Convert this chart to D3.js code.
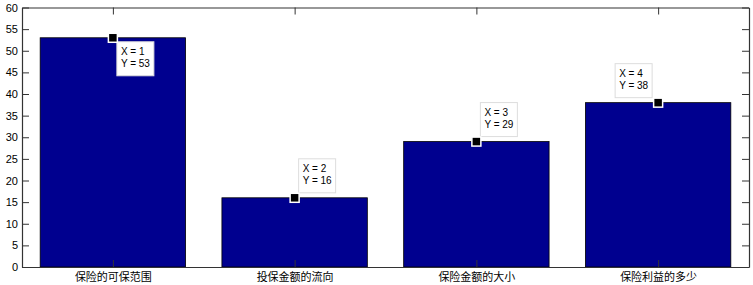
<!DOCTYPE html>
<html>
<head>
<meta charset="utf-8">
<script src="https://cdn.jsdelivr.net/npm/d3@7"></script>
<style>
  body { margin: 0; background: #fff; }
  svg text { font-family: "Liberation Sans", Arial, sans-serif; }
</style>
</head>
<body>
<svg id="chart" width="753" height="285"></svg>
<script>
"use strict";

var categories = ["保险的可保范围", "投保金额的流向", "保险金额的大小", "保险利益的多少"];
var values = [53, 16, 29, 38];
var yTicks = [0, 5, 10, 15, 20, 25, 30, 35, 40, 45, 50, 55, 60];
// where each data tip box sits relative to its marker
var tipPlace = ["below-right", "above-right", "above-right", "above-left"];

var svg = d3.select("#chart"),
	margin = {left: 22, right: 4, top: 7.5, bottom: 18},
	W = 753, H = 285,
	plotW = W - margin.left - margin.right,
	plotH = H - margin.top - margin.bottom,
	tick = 7;

var g = svg.append("g")
	.attr("transform", "translate(" + margin.left + "," + margin.top + ")");

// categories live at 1..4, limits [0.5, 4.5]
var x = d3.scaleLinear().domain([0.5, 4.5]).range([0, plotW]);
var y = d3.scaleLinear().domain([0, 60]).range([plotH, 0]);

g.append("rect")
	.attr("width", plotW)
	.attr("height", plotH)
	.attr("fill", "#fff");

// bars
g.selectAll(".bar")
	.data(values)
	.enter().append("rect")
	.attr("class", "bar")
	.attr("x", function (d, i) { return x(i + 1 - 0.4); })
	.attr("width", x(1.4) - x(0.6))
	.attr("y", function (d) { return y(d); })
	.attr("height", function (d) { return y(0) - y(d); })
	.attr("fill", "#00008f")
	.attr("stroke", "#000")
	.attr("stroke-width", 0.8);

// axes, MATLAB style: ticks pointing in, mirrored on top and right
var axisColor = "#333";
var yLeft = d3.axisLeft(y).tickValues(yTicks).tickSizeInner(-tick).tickSizeOuter(0).tickPadding(4);
var yRight = d3.axisRight(y).tickValues(yTicks).tickSizeInner(-tick).tickSizeOuter(0).tickFormat("");
var xBottom = d3.axisBottom(x).tickValues([1, 2, 3, 4]).tickSizeInner(-tick).tickSizeOuter(0)
	.tickPadding(4).tickFormat(function (d) { return categories[d - 1]; });
var xTop = d3.axisTop(x).tickValues([1, 2, 3, 4]).tickSizeInner(-tick).tickSizeOuter(0).tickFormat("");

function styleAxis(sel) {
	sel.selectAll("path, line").attr("stroke", axisColor);
	sel.selectAll("text").attr("fill", "#000").style("font-size", "11px");
	sel.select(".domain").attr("stroke-width", 1.2);
}

g.append("g").call(yLeft).call(styleAxis);
g.append("g").attr("transform", "translate(" + plotW + ",0)").call(yRight).call(styleAxis);
g.append("g").attr("transform", "translate(0," + plotH + ")").call(xBottom).call(styleAxis)
	.selectAll("text").attr("dy", "0.9em")
	.style("font-family", "'Noto Sans CJK SC', sans-serif").style("font-size", "11px");
g.append("g").call(xTop).call(styleAxis);

// data tips
var boxW = 37, boxH = 34;

function boxX(i) { return /left/.test(tipPlace[i]) ? -6 - boxW : 4; }
function boxY(i) { return /below/.test(tipPlace[i]) ? 4 : -5 - boxH; }

var tips = g.selectAll(".tip")
	.data(values)
	.enter().append("g")
	.attr("class", "tip")
	.attr("transform", function (d, i) { return "translate(" + x(i + 1) + "," + y(d) + ")"; });

tips.append("rect")
	.attr("x", function (d, i) { return boxX(i); })
	.attr("y", function (d, i) { return boxY(i); })
	.attr("width", boxW)
	.attr("height", boxH)
	.attr("fill", "#fff")
	.attr("stroke", "#ddd")
	.attr("stroke-width", 1);

tips.each(function (d, i) {
	var bx = boxX(i), by = boxY(i);
	var txt = d3.select(this).append("text")
		.attr("y", by + 13.5)
		.style("font-size", "10px")
		.attr("fill", "#000");
	txt.append("tspan").attr("x", bx + 4).text("X = " + (i + 1));
	txt.append("tspan").attr("x", bx + 4).attr("dy", 12).text("Y = " + d);
});

tips.append("rect")
	.attr("x", -4.5)
	.attr("y", -4.5)
	.attr("width", 9)
	.attr("height", 9)
	.attr("fill", "#000")
	.attr("stroke", "#fff")
	.attr("stroke-width", 1.5);
</script>
</body>
</html>
